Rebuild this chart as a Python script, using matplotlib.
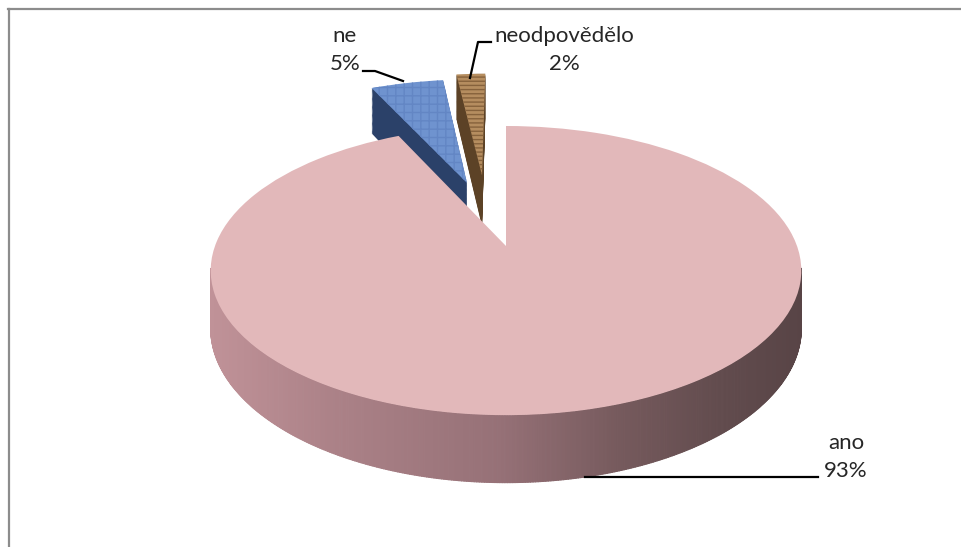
import numpy as np
import matplotlib
matplotlib.use("Agg")
import matplotlib.pyplot as plt
from matplotlib.patches import Wedge
from matplotlib.collections import PolyCollection
from matplotlib.transforms import Transform

plt.rcParams['font.family'] = ['Lato', 'DejaVu Sans']
plt.rcParams['hatch.linewidth'] = 1.0

# data
labels = ['ano', 'ne', 'neodpovědělo']
values = [93, 5, 2]

# slice look
top_colors = ['#e2b8ba', '#6f93cf', '#b58d5f']
hatch_colors = ['#e2b8ba', '#6386c4', '#86623c']
hatches = [None, '++', '----']
wall_colors = ['#a87f85', '#2b4169', '#5c4226']

# how far each slice is pulled out of the pie (pie units)
offsets = [(0.0, 0.0), (-0.145, 0.486), (-0.09, 0.55)]

# projection of the tilted pie to pixels
cx, cy = 506, 246
rx, ry = 291, 140.4
persp = 0.17
depth = 56


def project(xy, z=0.0):
    xy = np.asarray(xy, dtype=float)
    s = 1 / (1 + persp * xy[:, 1])
    return np.column_stack([cx + rx * xy[:, 0] * s,
                            cy - ry * xy[:, 1] * s + depth * z * s])


class Tilt(Transform):
    input_dims = 2
    output_dims = 2
    is_affine = False
    has_inverse = False

    def __init__(self, z=0.0):
        super().__init__()
        self.z = z

    def transform_non_affine(self, values):
        return project(values, self.z)


fig = plt.figure(figsize=(9.61, 5.47), dpi=100, facecolor='white')
ax = fig.add_axes([0, 0, 1, 1])

wedges, _ = ax.pie(values, startangle=90, counterclock=False, radius=1)
for w in wedges:
    w.set_visible(False)

# back slices first, "ano" last so it hides the feet of the other two
for i in [2, 1, 0]:
    w = wedges[i]
    center = offsets[i]

    if i == 0:
        # outer wall, shaded from left to right (only the part facing us)
        th = np.radians(np.linspace(w.theta1, w.theta2, 800))
        pts = np.column_stack([np.cos(th) + center[0], np.sin(th) + center[1]])
        upper = project(pts, 0)
        lower = project(pts, 1)
        polys = [[upper[j], upper[j + 1], lower[j + 1], lower[j]]
                 for j in range(len(th) - 1) if pts[j, 1] <= -0.15 and pts[j + 1, 1] <= -0.15]
        mid_x = np.array([(p[0][0] + p[1][0]) / 2 for p in polys])
        stops = [212, 330, 500, 620, 720, 803]
        rgb = np.column_stack([
            np.interp(mid_x, stops, [192, 172, 150, 118, 98, 88]),
            np.interp(mid_x, stops, [146, 130, 113, 90, 76, 68]),
            np.interp(mid_x, stops, [152, 136, 119, 93, 78, 70]),
        ]) / 255
        ax.add_collection(PolyCollection(polys, facecolors=rgb, edgecolors=rgb, linewidths=0.8))
    else:
        # stack copies downwards to get the side faces
        for z in np.linspace(1, 0.02, 40):
            side = Wedge(center, w.r, w.theta1, w.theta2, facecolor=wall_colors[i], edgecolor='none',
                         transform=Tilt(z) + ax.transData)
            ax.add_patch(side)

    top = Wedge(center, w.r, w.theta1, w.theta2, facecolor=top_colors[i], edgecolor=hatch_colors[i],
                hatch=hatches[i], linewidth=0, transform=Tilt(0) + ax.transData)
    ax.add_patch(top)

# labels
text_color = '#262626'
label_pos = [(846, 457), (345, 50), (564, 50)]
for name, val, (tx, ty) in zip(labels, values, label_pos):
    ax.text(tx, ty, f'{name}\n{val}%', ha='center', va='center', fontsize=16,
            color=text_color, linespacing=1.5)

# leader lines
ax.plot([585, 818], [477, 477], color='black', lw=1.6)
ax.plot([363, 375, 403], [71, 71, 81], color='black', lw=1.6)
ax.plot([491, 478, 470], [42, 42, 78], color='black', lw=1.6)

ax.set_aspect('auto')
ax.set_xlim(0, 961)
ax.set_ylim(547, 0)
ax.axis('off')

# chart frame
ax.plot([8.5, 8.5], [547, 9], color='#8c8c8c', lw=1.6, clip_on=False)
ax.plot([8, 961], [9, 9], color='#8c8c8c', lw=1.6, clip_on=False)

fig.savefig('out.png', dpi=100)
